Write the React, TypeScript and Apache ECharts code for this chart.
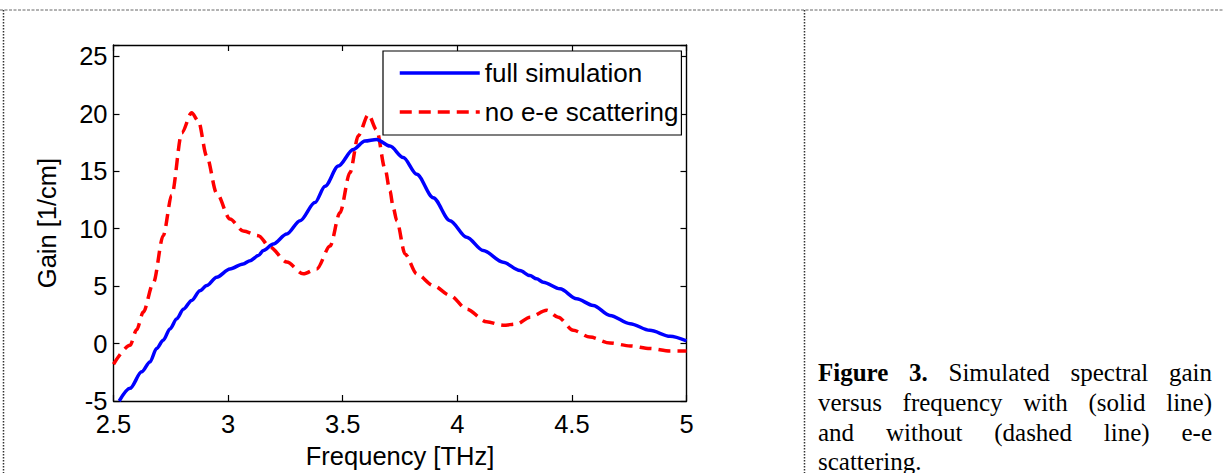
import React, { useEffect, useRef } from "react";
import * as echarts from "echarts";

// ---- data ----
const freqFull = [
  2.525, 2.572, 2.623, 2.659, 2.688, 2.717, 2.747, 2.776, 2.805, 2.841, 2.877,
  2.907, 2.95, 3.008, 3.066, 3.096, 3.132, 3.154, 3.197, 3.256, 3.314, 3.379,
  3.423, 3.481, 3.546, 3.597, 3.648, 3.706, 3.764, 3.823, 3.895, 3.968, 4.041,
  4.113, 4.2, 4.273, 4.317, 4.346, 4.375, 4.448, 4.521, 4.593, 4.666, 4.754,
  4.84, 4.928, 5.0,
];
const gainFull = [
  -5.0, -3.9, -2.46, -1.6, -0.43, 0.29, 1.3, 2.17, 3.0, 3.76, 4.6, 5.06, 5.78,
  6.5, 6.94, 7.22, 7.66, 8.1, 8.67, 9.54, 10.7, 12.28, 13.7, 15.46, 16.9, 17.63,
  17.78, 17.2, 16.2, 14.74, 12.7, 10.7, 9.25, 8.1, 7.08, 6.36, 5.92, 5.64, 5.35,
  4.77, 3.9, 3.32, 2.45, 1.73, 1.15, 0.63, 0.23,
];

const freqNoEE = [
  2.5, 2.572, 2.601, 2.63, 2.674, 2.717, 2.754, 2.798, 2.841, 2.87, 2.907, 2.95,
  3.008, 3.066, 3.132, 3.183, 3.256, 3.328, 3.387, 3.445, 3.488, 3.532, 3.568,
  3.612, 3.648, 3.685, 3.706, 3.721, 3.736, 3.772, 3.823, 3.895, 3.968, 4.041,
  4.128, 4.2, 4.259, 4.317, 4.39, 4.44, 4.506, 4.579, 4.666, 4.754, 4.84, 4.928,
  5.0,
];
const gainNoEE = [
  -1.8, -0.15, 1.2, 2.74, 5.3, 9.4, 12.9, 18.35, 20.1, 19.4, 16.3, 13.1, 10.85,
  9.8, 9.4, 8.4, 7.1, 6.07, 6.5, 8.5, 11.4, 14.9, 18.1, 19.95, 18.6, 15.2, 13.3,
  11.8, 10.7, 7.8, 6.07, 5.06, 4.2, 3.0, 1.9, 1.6, 1.7, 2.3, 2.9, 2.3, 1.15,
  0.57, 0.05, -0.2, -0.43, -0.64, -0.64,
];

const yTickValues = [-5, 0, 5, 10, 15, 20, 25];
const seriesNames = ["full simulation", "no e-e scattering"];

const captionLines: { words: { t: string; b?: boolean }[]; justify: boolean }[] = [
  {
    words: [
      { t: "Figure", b: true },
      { t: "3.", b: true },
      { t: "Simulated" },
      { t: "spectral" },
      { t: "gain" },
    ],
    justify: true,
  },
  {
    words: "versus frequency with (solid line)".split(" ").map((t) => ({ t })),
    justify: true,
  },
  {
    words: "and without (dashed line) e-e".split(" ").map((t) => ({ t })),
    justify: true,
  },
  { words: [{ t: "scattering." }], justify: false },
];

const SANS = "'Liberation Sans', Arial, sans-serif";
const SERIF = "'Liberation Serif', 'Times New Roman', serif";

export default function App() {
  const ref = useRef<HTMLDivElement>(null);

  useEffect(() => {
    if (!ref.current) return;
    const chart = echarts.init(ref.current, undefined, { renderer: "svg" });

    // caption layout (justified words)
    const canvas = document.createElement("canvas");
    const ctx = canvas.getContext("2d")!;
    const capSize = 25;
    const capLeft = 818;
    const capRight = 1212;
    const capY = [372.5, 402.5, 432.5, 461];
    const captionGraphics: any[] = [];
    captionLines.forEach((line, li) => {
      const widths = line.words.map((w) => {
        ctx.font = `${w.b ? "bold " : ""}${capSize}px ${SERIF}`;
        return ctx.measureText(w.t).width;
      });
      const total = widths.reduce((a, b) => a + b, 0);
      const n = line.words.length;
      const gap = line.justify && n > 1 ? (capRight - capLeft - total) / (n - 1) : capSize * 0.25;
      let x = capLeft;
      line.words.forEach((w, i) => {
        captionGraphics.push({
          type: "text",
          x,
          y: capY[li],
          silent: true,
          style: {
            text: w.t,
            fontSize: capSize,
            fontFamily: SERIF,
            fontWeight: w.b ? "bold" : "normal",
            fill: "#000",
            align: "left",
            verticalAlign: "middle",
          },
        });
        x += widths[i] + gap;
      });
    });

    const axisCommon = {
      type: "value" as const,
      axisLine: { show: true, onZero: false, lineStyle: { color: "#000", width: 1.4 } },
      axisTick: { show: true, inside: true, length: 6, lineStyle: { color: "#000", width: 1.2 } },
      splitLine: { show: false },
    };

    const option: any = {
      animation: false,
      backgroundColor: "#fff",
      grid: {
        left: 113.5,
        top: 45,
        right: 537.5,
        bottom: 72,
        containLabel: false,
        outerBoundsMode: "none",
      },
      legend: {
        orient: "vertical",
        left: 383,
        top: 51,
        padding: [9, 3, 10, 15],
        itemWidth: 80,
        itemHeight: 14,
        itemGap: 13,
        backgroundColor: "#fff",
        borderColor: "#000",
        borderWidth: 1.2,
        borderRadius: 0,
        itemStyle: { opacity: 0 },
        lineStyle: { width: "inherit", type: "inherit" },
        textStyle: { fontSize: 26, fontFamily: SANS, color: "#000", padding: [0, 0, 0, 0] },
        data: seriesNames,
      },
      xAxis: [
        {
          ...axisCommon,
          position: "bottom",
          min: 2.5,
          max: 5,
          interval: 0.5,
          name: "Frequency [THz]",
          nameLocation: "middle",
          nameGap: 42,
          nameTextStyle: { fontSize: 25.5, fontFamily: SANS, color: "#000" },
          axisLabel: { fontSize: 25.5, fontFamily: SANS, color: "#000", margin: 10 },
        },
        {
          ...axisCommon,
          position: "top",
          min: 2.5,
          max: 5,
          interval: 0.5,
          axisLabel: { show: false },
        },
      ],
      yAxis: [
        {
          ...axisCommon,
          position: "left",
          min: -5,
          max: 26,
          interval: 5,
          name: "Gain [1/cm]",
          nameLocation: "middle",
          nameGap: 54,
          nameTextStyle: { fontSize: 25.5, fontFamily: SANS, color: "#000" },
          axisLabel: {
            fontSize: 25.5,
            fontFamily: SANS,
            color: "#000",
            margin: 6,
            formatter: (v: number) => (yTickValues.includes(v) ? String(v) : ""),
          },
        },
        {
          ...axisCommon,
          position: "right",
          min: -5,
          max: 26,
          interval: 5,
          axisLabel: { show: false },
        },
      ],
      series: [
        {
          name: seriesNames[0],
          type: "line",
          xAxisIndex: 0,
          yAxisIndex: 0,
          data: freqFull.map((f, i) => [f, gainFull[i]]),
          showSymbol: false,
          symbol: "none",
          smooth: 0.3,
          smoothMonotone: "x",
          lineStyle: { color: "#0000FF", width: 3.5 },
          itemStyle: { color: "#0000FF" },
          clip: true,
          z: 3,
        },
        {
          name: seriesNames[1],
          type: "line",
          xAxisIndex: 0,
          yAxisIndex: 0,
          data: freqNoEE.map((f, i) => [f, gainNoEE[i]]),
          showSymbol: false,
          symbol: "none",
          smooth: 0.3,
          smoothMonotone: "x",
          lineStyle: { color: "#FF0000", width: 3.5, type: [12, 7] },
          itemStyle: { color: "#FF0000" },
          clip: true,
          z: 2,
        },
      ],
      graphic: [
        {
          type: "line",
          silent: true,
          shape: { x1: 0, y1: 10, x2: 1224, y2: 10 },
          style: { stroke: "#666", lineWidth: 1, lineDash: [3, 1.5] },
        },
        {
          type: "line",
          silent: true,
          shape: { x1: 3.5, y1: 10, x2: 3.5, y2: 473 },
          style: { stroke: "#333", lineWidth: 1.5, lineDash: [1.5, 1.5] },
        },
        {
          type: "line",
          silent: true,
          shape: { x1: 804.5, y1: 10, x2: 804.5, y2: 473 },
          style: { stroke: "#333", lineWidth: 1.5, lineDash: [1.5, 1.5] },
        },
        ...captionGraphics,
      ],
    };

    chart.setOption(option);
    return () => chart.dispose();
  }, []);

  return (
    <div
      ref={ref}
      style={{ position: "absolute", left: 0, top: 0, width: 1224, height: 473, background: "#fff" }}
    />
  );
}
